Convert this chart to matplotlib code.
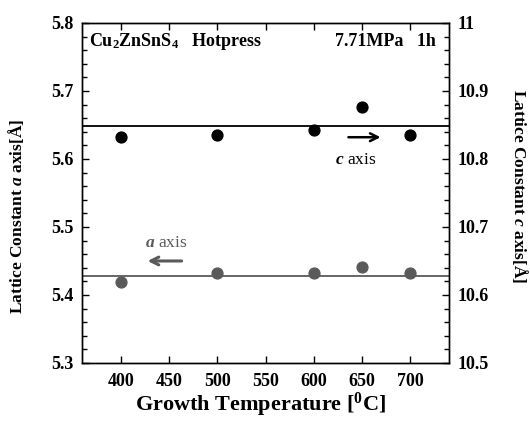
import matplotlib
matplotlib.use("Agg")
import matplotlib.pyplot as plt
from matplotlib.ticker import MultipleLocator

plt.rcParams.update({
    "font.family": "Liberation Serif",
    "font.weight": "bold",
    "mathtext.fontset": "custom",
    "mathtext.rm": "Liberation Serif:bold",
    "mathtext.it": "Liberation Serif:bold:italic",
    "mathtext.bf": "Liberation Serif:bold",
    "axes.linewidth": 1.0,
})

# ── data ──────────────────────────────────────────────────────────────────
temps = [400, 500, 600, 650, 700]
a_axis = [5.419, 5.432, 5.432, 5.441, 5.433]        # left axis [Å]
c_axis = [10.832, 10.836, 10.843, 10.876, 10.836]   # right axis [Å]
a_ref = 5.4285
c_ref = 10.849

GREY = "#5a5a5a"

fig = plt.figure(figsize=(5.3, 4.24), dpi=100)
ax = fig.add_axes([0.1547, 0.1439, 0.6925, 0.8019])
ax2 = ax.twinx()

ax.plot(temps, a_axis, "o", color=GREY, ms=7.8, zorder=3)
ax.axhline(a_ref, color=GREY, lw=1.3)
ax2.plot(temps, c_axis, "o", color="black", ms=7.8, zorder=3)
ax2.axhline(c_ref, color="black", lw=1.3)

ax.set_xlim(360, 740)
ax.set_ylim(5.3, 5.8)
ax2.set_ylim(10.5, 11.0)
ax.xaxis.set_major_locator(MultipleLocator(50))
ax.yaxis.set_major_locator(MultipleLocator(0.1))
ax.yaxis.set_minor_locator(MultipleLocator(0.02))
ax2.yaxis.set_major_locator(MultipleLocator(0.1))
ax2.yaxis.set_minor_locator(MultipleLocator(0.02))
ax2.set_yticks([10.5, 10.6, 10.7, 10.8, 10.9, 11.0])
ax2.set_yticklabels(["10.5", "10.6", "10.7", "10.8", "10.9", "11"])

ax.tick_params(axis="x", direction="in", top=True, length=5, width=1,
               labelsize=13, pad=7)
ax.tick_params(axis="y", which="major", direction="in", length=5, width=1,
               labelsize=13, pad=6)
ax.tick_params(axis="y", which="minor", direction="in", length=3.5, width=1)
ax2.tick_params(axis="y", which="major", direction="in", length=5, width=1,
                labelsize=13, pad=6)
ax2.tick_params(axis="y", which="minor", direction="in", length=3.5, width=1)
for lab in ax.get_xticklabels() + ax.get_yticklabels() + ax2.get_yticklabels():
    lab.set_fontweight("bold")

fig.text(0.491, 0.045, r"Growth Temperature [$^{0}$C]", ha="center",
         va="center", fontsize=16, fontweight="bold")
fig.text(0.031, 0.49, r"Lattice Constant $a$ axis[Å]", rotation=90,
         ha="center", va="center", fontsize=12.5, fontweight="bold")
fig.text(0.982, 0.56, r"Lattice Constant $c$ axis[Å]", rotation=-90,
         ha="center", va="center", fontsize=12.5, fontweight="bold")

ax.text(0.018, 0.945, r"Cu$_2$ZnSnS$_4$   Hotpress", transform=ax.transAxes,
        ha="left", va="center", fontsize=13, fontweight="bold")
ax.text(0.964, 0.945, "7.71MPa   1h", transform=ax.transAxes,
        ha="right", va="center", fontsize=13, fontweight="bold")

# arrows pointing to the relevant axis
ax.annotate("", xy=(672, 5.632), xytext=(633, 5.632),
            arrowprops=dict(arrowstyle="->", color="black", lw=1.8,
                            mutation_scale=14))
ax.text(643, 5.598, r"$c$ axis", ha="center", va="center", fontsize=12.5,
        fontweight="normal", color="black")
ax.annotate("", xy=(425, 5.45), xytext=(466, 5.45),
            arrowprops=dict(arrowstyle="->", color=GREY, lw=2.2,
                            mutation_scale=14))
ax.text(447, 5.476, r"$a$ axis", ha="center", va="center", fontsize=12.5,
        fontweight="normal", color=GREY)

fig.savefig("out.png", dpi=100, facecolor="white")
